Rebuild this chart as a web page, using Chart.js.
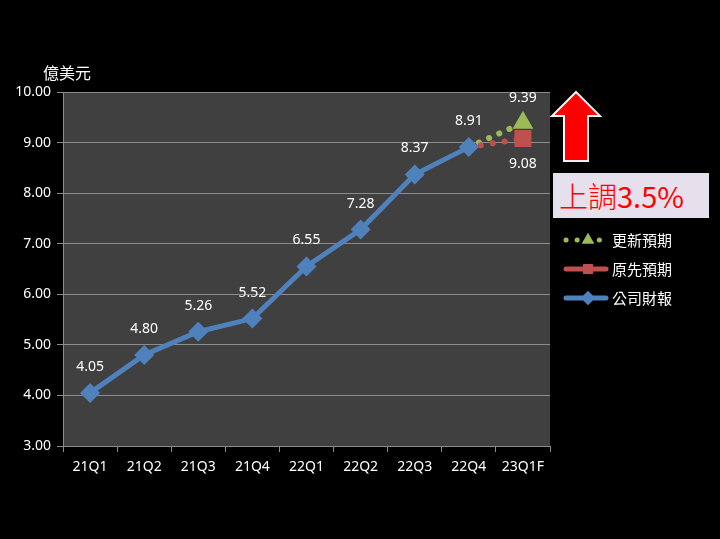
<!DOCTYPE html>
<html>
<head>
<meta charset="utf-8">
<script src="https://cdn.jsdelivr.net/npm/chart.js@4/dist/chart.umd.min.js"></script>
<style>
  html, body { margin: 0; padding: 0; background: #000; }
  #wrap { position: relative; width: 720px; height: 539px; }
  #note {
    position: absolute; left: 553px; top: 173px; width: 156px; height: 45px;
    background: #e6e0ec; color: #ff0000; box-sizing: border-box;
    font: 29px "Noto Sans CJK TC", "Noto Sans", sans-serif; line-height: 45px; padding-left: 6px;
  }
  #note .cjk { font-weight: 300; }
</style>
</head>
<body>
<div id="wrap">
  <canvas id="chart" width="720" height="539"></canvas>
  <div id="note"><span class="cjk">上調</span>3.5%</div>
</div>
<script>
const quarters = ['21Q1', '21Q2', '21Q3', '21Q4', '22Q1', '22Q2', '22Q3', '22Q4', '23Q1F'];
const reported = [4.05, 4.80, 5.26, 5.52, 6.55, 7.28, 8.37, 8.91, null];
const originalForecast = [null, null, null, null, null, null, null, 8.91, 9.08];
const updatedForecast = [null, null, null, null, null, null, null, 8.91, 9.39];
const yTicks = [3, 4, 5, 6, 7, 8, 9, 10];

const blue = '#4f81bd', red = '#c0504d', green = '#9bbb59';
const font = '"Noto Sans", "Noto Sans CJK TC", sans-serif';

// grey plot background
const plotBg = {
  id: 'plotBg',
  beforeDraw(chart) {
    const a = chart.chartArea, ctx = chart.ctx;
    ctx.save();
    ctx.fillStyle = '#404040';
    ctx.fillRect(a.left, a.top, a.right - a.left, a.bottom - a.top);
    ctx.restore();
  }
};

// value labels, axis title, legend and arrow
const extras = {
  id: 'extras',
  afterDatasetsDraw(chart) {
    const ctx = chart.ctx;
    ctx.save();
    ctx.fillStyle = '#fff';
    ctx.font = '14px ' + font;
    ctx.textAlign = 'center';
    ctx.textBaseline = 'middle';
    chart.getDatasetMeta(2).data.forEach((p, i) => {
      if (reported[i] != null) ctx.fillText(reported[i].toFixed(2), p.x, p.y - 26);
    });
    const last = quarters.length - 1;
    const g = chart.getDatasetMeta(0).data[last];
    ctx.fillText(updatedForecast[last].toFixed(2), g.x, g.y - 25);
    const r = chart.getDatasetMeta(1).data[last];
    ctx.fillText(originalForecast[last].toFixed(2), r.x, r.y + 25);

    // axis title
    ctx.font = '16px "Noto Sans CJK TC", sans-serif';
    ctx.fillText('億美元', 67, 73);

    // legend
    const items = [
      { y: 240, text: '更新預期', color: green, style: 'triangle', dotted: true },
      { y: 269, text: '原先預期', color: red, style: 'rect', dotted: false },
      { y: 298, text: '公司財報', color: blue, style: 'rectRot', dotted: false }
    ];
    items.forEach(it => {
      ctx.strokeStyle = it.color;
      ctx.fillStyle = it.color;
      ctx.lineCap = 'round';
      ctx.lineWidth = 5;
      ctx.setLineDash(it.dotted ? [0.1, 11] : []);
      ctx.beginPath();
      ctx.moveTo(566, it.y);
      ctx.lineTo(606, it.y);
      ctx.stroke();
      ctx.setLineDash([]);
      Chart.helpers.drawPoint(ctx, { pointStyle: it.style, radius: 7, borderWidth: 0 }, 588, it.y);
      ctx.fill();
      ctx.fillStyle = '#fff';
      ctx.font = '15px "Noto Sans CJK TC", sans-serif';
      ctx.textAlign = 'left';
      ctx.fillText(it.text, 612, it.y);
    });

    // red up arrow
    ctx.beginPath();
    ctx.moveTo(576, 92);
    ctx.lineTo(600, 116);
    ctx.lineTo(588, 116);
    ctx.lineTo(588, 161);
    ctx.lineTo(564, 161);
    ctx.lineTo(564, 116);
    ctx.lineTo(552, 116);
    ctx.closePath();
    ctx.fillStyle = '#ff0000';
    ctx.fill();
    ctx.lineWidth = 2;
    ctx.strokeStyle = '#f2f2f2';
    ctx.stroke();
    ctx.restore();
  }
};

new Chart(document.getElementById('chart'), {
  type: 'line',
  data: {
    labels: quarters,
    datasets: [
      {
        label: '更新預期',
        data: updatedForecast,
        order: 3,
        borderColor: green,
        backgroundColor: green,
        borderWidth: 6,
        borderDash: [0.1, 11],
        borderCapStyle: 'round',
        pointStyle: 'triangle',
        pointRadius: updatedForecast.map((v, i) => i === quarters.length - 1 ? 12 : 0),
        pointBorderWidth: 0
      },
      {
        label: '原先預期',
        data: originalForecast,
        order: 2,
        borderColor: red,
        backgroundColor: red,
        borderWidth: 6,
        borderDash: [0.1, 12],
        borderCapStyle: 'round',
        pointStyle: 'rect',
        pointRadius: originalForecast.map((v, i) => i === quarters.length - 1 ? 12 : 0),
        pointBorderWidth: 0
      },
      {
        label: '公司財報',
        data: reported,
        order: 1,
        borderColor: blue,
        backgroundColor: blue,
        borderWidth: 5,
        pointStyle: 'rectRot',
        pointRadius: 10,
        pointBorderWidth: 0
      }
    ]
  },
  options: {
    responsive: false,
    animation: false,
    events: [],
    layout: { padding: { top: 92, right: 170, bottom: 0, left: 0 } },
    plugins: { legend: { display: false }, tooltip: { enabled: false } },
    scales: {
      x: {
        offset: true,
        grid: { offset: true, drawOnChartArea: false, color: '#8c8c8c', tickLength: 6 },
        border: { color: '#8c8c8c' },
        ticks: { color: '#fff', font: { size: 14, family: font }, padding: 7, maxRotation: 0 },
        afterFit(s) { s.height = 93; }
      },
      y: {
        min: 3,
        max: 10,
        afterBuildTicks(s) { s.ticks = yTicks.map(v => ({ value: v })); },
        grid: { color: '#8c8c8c', tickLength: 6 },
        border: { color: '#8c8c8c' },
        ticks: {
          color: '#fff', font: { size: 14, family: font }, padding: 6,
          callback: v => v.toFixed(2)
        },
        afterFit(s) { s.width = 63; }
      }
    }
  },
  plugins: [plotBg, extras]
});
</script>
</body>
</html>
